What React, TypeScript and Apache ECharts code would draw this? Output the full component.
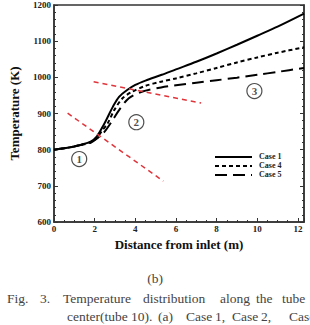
import React, { useEffect, useRef } from "react";
import * as echarts from "echarts";

// Axial temperature along the tube centre for three cases
const case1X = [0, 0.5, 1.0, 1.3, 1.8, 2.1, 2.4, 2.65, 2.9, 3.2, 3.6, 4.0, 4.5, 5.3, 6, 7, 8, 9, 10, 11, 12.3];
const case1T = [800, 804, 809, 813, 822, 836, 864, 891, 919, 946, 965, 979, 991, 1007, 1022, 1043, 1066, 1090, 1115, 1140, 1176];

const case4X = [0, 0.5, 1.0, 1.3, 1.8, 2.1, 2.33, 2.65, 2.97, 3.37, 3.84, 4.48, 5.27, 6, 7, 8, 9, 10, 11, 12.3];
const case4T = [800, 804, 809, 813, 820, 832, 850, 874, 910, 942, 960, 976, 988, 997, 1011, 1026, 1041, 1055, 1068, 1083];

const case5X = [0, 0.5, 1.0, 1.3, 1.8, 2.1, 2.49, 2.89, 3.21, 3.68, 4.32, 5.27, 6, 7, 8, 9, 10, 11, 12.3];
const case5T = [800, 804, 809, 813, 819, 830, 850, 882, 910, 942, 960, 972, 978, 985, 992, 999, 1007, 1015, 1026];

// Red dashed guide lines separating the regions
const guideA = [[0.67, 901], [5.38, 713]];
const guideB = [[1.95, 988], [7.24, 929]];

// Region markers
const regionLabels = ["1", "2", "3"];
const regionX = [1.24, 4.05, 9.86];
const regionT = [774, 876, 962];

const xTicks = [0, 2, 4, 6, 8, 10, 12];

const caseNames = ["Case 1", "Case 4", "Case 5"];
const caseDash: (number[] | null)[] = [null, [4, 3], [12, 6]];

const serif = "'Liberation Serif', 'DejaVu Serif', serif";

const pair = (xs: number[], ys: number[]) => xs.map((x, i) => [x, ys[i]]);

export default function App() {
  const ref = useRef<HTMLDivElement>(null);

  useEffect(() => {
    document.body.style.margin = "0";
    const chart = echarts.init(ref.current!, undefined, { renderer: "svg" });
    const axisColor = "#333";
    const tickLabel = { fontFamily: serif, fontWeight: "bold" as const, fontSize: 9, color: "#222" };

    const captionLine1 = [
      ["Fig.", 7], ["3.", 40], ["Temperature", 63], ["distribution", 143],
      ["along", 220], ["the", 256], ["tube", 282],
    ];
    const captionLine2 = [
      ["center(tube", 67], ["10).", 131], ["(a)", 158], ["Case", 186], ["1,", 215],
      ["Case", 232], ["2,", 261], ["Case", 289],
    ];
    const captionText = (words: any[], y: number) =>
      words.map(([t, x]) => ({
        type: "text",
        left: x,
        top: y,
        style: { text: t, fontFamily: serif, fontSize: 13.5, fill: "#444" },
      }));

    // Legend key: line sample plus label for each case
    const legendItems = caseNames.flatMap((name, i) => {
      const y = 157 + i * 9;
      return [
        {
          type: "line",
          shape: { x1: 215, y1: y, x2: 252, y2: y },
          style: { stroke: "#000", lineWidth: 2, lineDash: caseDash[i] ?? undefined },
        },
        {
          type: "text",
          left: 259,
          top: y - 4.5,
          style: { text: name, fontFamily: serif, fontWeight: "bold", fontSize: 8, fill: "#222" },
        },
      ];
    });

    chart.setOption({
      animation: false,
      grid: { left: 46, top: 5, right: 6, bottom: 103, show: true, borderColor: axisColor, borderWidth: 1.5 },
      xAxis: {
        type: "value",
        min: 0,
        max: 12.3,
        interval: 2,
        name: "Distance from inlet (m)",
        nameLocation: "middle",
        nameGap: 13,
        nameTextStyle: { fontFamily: serif, fontWeight: "bold", fontSize: 13, color: "#111" },
        axisLine: { lineStyle: { color: axisColor, width: 1.5 } },
        axisTick: { inside: true, length: 4, lineStyle: { color: axisColor } },
        minorTick: { show: true, splitNumber: 4, length: 2, lineStyle: { color: axisColor } },
        axisLabel: {
          ...tickLabel,
          margin: 2,
          showMaxLabel: false,
          formatter: (v: number) => (xTicks.includes(v) ? String(v) : ""),
        },
        splitLine: { show: false },
      },
      yAxis: [
        {
          type: "value",
          min: 600,
          max: 1200,
          interval: 100,
          name: "Temperature (K)",
          nameLocation: "middle",
          nameGap: 33,
          nameTextStyle: { fontFamily: serif, fontWeight: "bold", fontSize: 13, color: "#111" },
          axisLine: { lineStyle: { color: axisColor, width: 1.5 } },
          axisTick: { inside: true, length: 4, lineStyle: { color: axisColor } },
          minorTick: { show: true, splitNumber: 5, length: 2, lineStyle: { color: axisColor } },
          axisLabel: { ...tickLabel, margin: 3, formatter: (v: number) => String(v) },
          splitLine: { show: false },
        },
        {
          type: "value",
          min: 600,
          max: 1200,
          interval: 100,
          position: "right",
          axisLine: { show: true, lineStyle: { color: axisColor, width: 1.5 } },
          axisTick: { inside: true, length: 4, lineStyle: { color: axisColor } },
          minorTick: { show: true, splitNumber: 5, length: 2, lineStyle: { color: axisColor } },
          axisLabel: { show: false },
          splitLine: { show: false },
        },
      ],
      series: [
        {
          name: caseNames[0],
          type: "line",
          data: pair(case1X, case1T),
          smooth: 0.3,
          symbol: "none",
          lineStyle: { color: "#000", width: 2 },
        },
        {
          name: caseNames[1],
          type: "line",
          data: pair(case4X, case4T),
          smooth: 0.3,
          symbol: "none",
          lineStyle: { color: "#000", width: 2, type: caseDash[1] },
        },
        {
          name: caseNames[2],
          type: "line",
          data: pair(case5X, case5T),
          smooth: 0.3,
          symbol: "none",
          lineStyle: { color: "#000", width: 2, type: caseDash[2] },
        },
        ...[guideA, guideB].map((g) => ({
          type: "line",
          data: g,
          symbol: "none",
          silent: true,
          lineStyle: { color: "#e0353b", width: 1.5, type: [5, 4] },
        })),
        {
          type: "scatter",
          data: regionX.map((x, i) => [x, regionT[i]]),
          symbol: "circle",
          symbolSize: 15,
          silent: true,
          itemStyle: { color: "#fff", borderColor: "#222", borderWidth: 1.2 },
          label: {
            show: true,
            position: "inside",
            formatter: (p: any) => regionLabels[p.dataIndex],
            fontFamily: serif,
            fontWeight: "bold",
            fontSize: 11,
            color: "#222",
          },
        },
      ],
      graphic: [
        {
          type: "text",
          left: "center",
          top: 271,
          style: { text: "(b)", fontFamily: serif, fontSize: 13.5, fill: "#444" },
        },
        ...captionText(captionLine1, 291),
        ...captionText(captionLine2, 309),
        ...legendItems,
      ],
    });
    return () => chart.dispose();
  }, []);

  return <div ref={ref} style={{ width: 310, height: 325 }} />;
}
